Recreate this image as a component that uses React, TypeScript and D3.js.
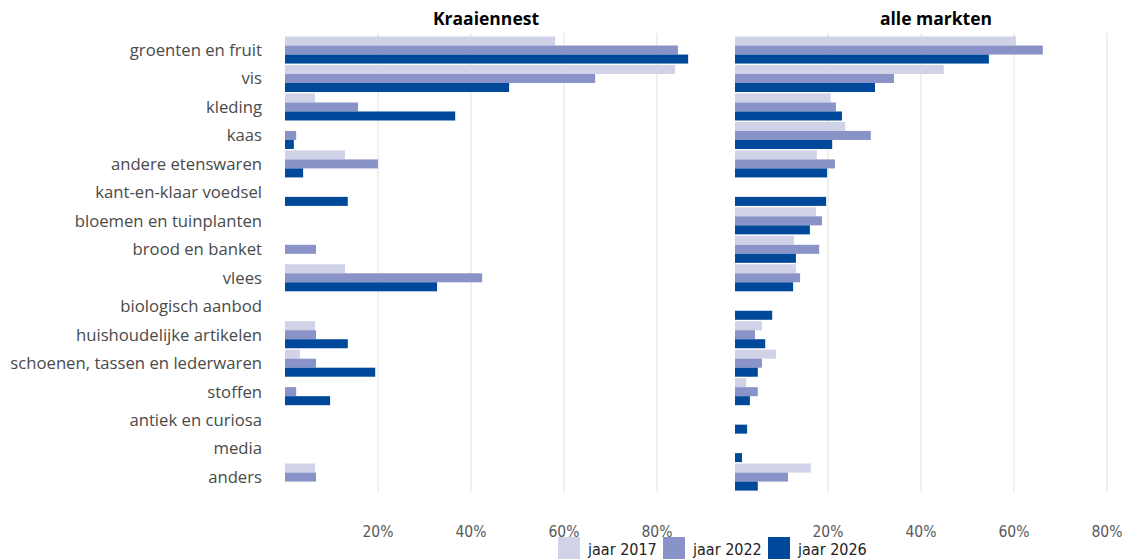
import React from "react";
import * as d3 from "d3";

const categories = [
  "groenten en fruit",
  "vis",
  "kleding",
  "kaas",
  "andere etenswaren",
  "kant-en-klaar voedsel",
  "bloemen en tuinplanten",
  "brood en banket",
  "vlees",
  "biologisch aanbod",
  "huishoudelijke artikelen",
  "schoenen, tassen en lederwaren",
  "stoffen",
  "antiek en curiosa",
  "media",
  "anders",
];

const series = ["jaar 2017", "jaar 2022", "jaar 2026"];
const colors = ["#d0d3e8", "#8a93c7", "#004899"];

// values in %, null = no bar
const kraai2017 = [58.1, 83.9, 6.45, null, 12.9, null, null, null, 12.9, null, 6.45, 3.2, null, null, null, 6.45];
const kraai2022 = [84.5, 66.7, 15.7, 2.4, 20.0, null, null, 6.67, 42.4, null, 6.67, 6.67, 2.4, null, null, 6.67];
const kraai2026 = [86.7, 48.2, 36.6, 1.9, 3.9, 13.5, null, null, 32.7, null, 13.5, 19.4, 9.7, null, null, null];

const alle2017 = [60.4, 44.9, 20.6, 23.7, 17.6, null, 17.4, 12.7, 13.1, null, 5.8, 8.8, 2.4, null, null, 16.3];
const alle2022 = [66.2, 34.2, 21.7, 29.2, 21.5, null, 18.7, 18.1, 14.0, null, 4.3, 5.8, 4.9, null, null, 11.4];
const alle2026 = [54.6, 30.1, 23.0, 20.9, 19.8, 19.6, 16.1, 13.1, 12.5, 8.0, 6.5, 4.9, 3.2, 2.6, 1.5, 4.9];

const panelTitles = ["Kraaiennest", "alle markten"];
const ticks = [20, 40, 60, 80];

const W = 1129;
const H = 559;

const panels = [
  { title: panelTitles[0], data: [kraai2017, kraai2022, kraai2026], x0: 285, titleX: 486 },
  { title: panelTitles[1], data: [alle2017, alle2022, alle2026], x0: 735, titleX: 936 },
];

export default function App() {
  const y = d3
    .scaleBand<string>()
    .domain(categories)
    .range([35.8, 491.3])
    .paddingInner(0.05)
    .paddingOuter(0.025);
  const ySub = d3.scaleBand<string>().domain(series).range([0, y.bandwidth()]);

  const labelFont = "'Open Sans', Lato, sans-serif";
  const narrowFont = "'Liberation Sans Narrow', 'DejaVu Sans Condensed', sans-serif";

  return (
    <svg
      width={W}
      height={H}
      style={{ position: "absolute", left: 0, top: 0, background: "#fff" }}
    >
      {panels.map((p, pi) => {
        const x = d3.scaleLinear().domain([0, 80]).range([p.x0, p.x0 + 372]);
        return (
          <g key={pi}>
            {ticks.map((t) => (
              <g key={t}>
                <line x1={x(t)} x2={x(t)} y1={33} y2={492} stroke="#ebebeb" strokeWidth={1.5} />
                <text
                  x={x(t)}
                  y={537}
                  textAnchor="middle"
                  fontFamily={narrowFont}
                  fontSize={15.5}
                  fill="#595959"
                >
                  {t}%
                </text>
              </g>
            ))}
            <text
              x={p.titleX}
              y={25}
              textAnchor="middle"
              fontFamily={labelFont}
              fontWeight="bold"
              fontSize={17.5}
              fill="#000"
            >
              {p.title}
            </text>
            {p.data.map((vals, si) =>
              vals.map((v, ci) =>
                v == null ? null : (
                  <rect
                    key={`${si}-${ci}`}
                    x={x(0)}
                    y={(y(categories[ci]) as number) + (ySub(series[si]) as number)}
                    width={x(v) - x(0)}
                    height={ySub.bandwidth()}
                    fill={colors[si]}
                  />
                )
              )
            )}
          </g>
        );
      })}
      {categories.map((c) => (
        <text
          key={c}
          x={262}
          y={(y(c) as number) + y.bandwidth() / 2}
          dy="0.35em"
          textAnchor="end"
          fontFamily={labelFont}
          fontSize={16.7}
          fill="#4a4a4a"
        >
          {c}
        </text>
      ))}
      {series.map((s, i) => {
        const lx = [558, 663, 768][i];
        return (
          <g key={s}>
            <rect x={lx} y={537} width={22} height={22} fill={colors[i]} />
            <text
              x={lx + 30}
              y={555}
              fontFamily={narrowFont}
              fontSize={16}
              fill="#222"
            >
              {s}
            </text>
          </g>
        );
      })}
    </svg>
  );
}
